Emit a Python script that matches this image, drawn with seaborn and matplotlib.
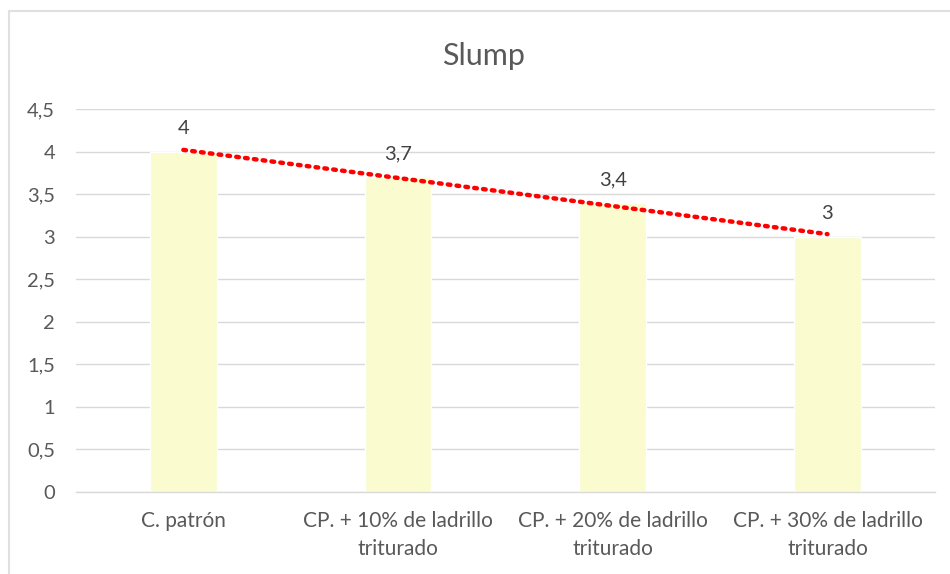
import numpy as np
import pandas as pd
import matplotlib
matplotlib.use("Agg")
import matplotlib.pyplot as plt
import seaborn as sns
from matplotlib.lines import Line2D

categories = ["C. patrón",
              "CP. + 10% de ladrillo\ntriturado",
              "CP. + 20% de ladrillo\ntriturado",
              "CP. + 30% de ladrillo\ntriturado"]
slump = [4.0, 3.7, 3.4, 3.0]
value_labels = ["4", "3,7", "3,4", "3"]
y_ticks = [0, 0.5, 1, 1.5, 2, 2.5, 3, 3.5, 4, 4.5]
y_tick_labels = ["0", "0,5", "1", "1,5", "2", "2,5", "3", "3,5", "4", "4,5"]
title = "Slump"

df = pd.DataFrame({"categoria": categories, "slump": slump})

sns.set_theme(style="white")
plt.rcParams["font.family"] = ["Lato", "DejaVu Sans"]

fig = plt.figure(figsize=(9.5, 5.74), dpi=100)
ax = fig.add_axes([0.08, 0.143, 0.904, 0.667])

sns.barplot(data=df, x="categoria", y="slump", color="#FAFCD0",
            width=0.31, saturation=1, ax=ax, zorder=2)

# linear trendline over the category positions
xs = np.arange(len(slump))
m, b = np.polyfit(xs, slump, 1)
ax.plot(xs, m * xs + b, color="#FF0000", linestyle=(0, (0.6, 1.4)),
        linewidth=3.2, dash_capstyle="round", zorder=3)

for x, v, lab in zip(xs, slump, value_labels):
    ax.text(x, v + 0.17, lab, ha="center", va="bottom",
            fontsize=14.5, color="#404040")

ax.set_ylim(0, 4.5)
ax.set_xlim(-0.5, len(slump) - 0.5)
ax.set_yticks(y_ticks)
ax.set_yticklabels(y_tick_labels, fontsize=14.5, color="#595959")
ax.tick_params(axis="x", labelsize=15, labelcolor="#595959", length=0, pad=14)
ax.tick_params(axis="y", length=0, pad=15)
for t in ax.get_xticklabels():
    t.set_linespacing(1.45)
ax.yaxis.grid(True, color="#D9D9D9", linewidth=1)
ax.set_axisbelow(True)
ax.set_xlabel("")
ax.set_ylabel("")
for s in ["top", "right", "left"]:
    ax.spines[s].set_visible(False)
ax.spines["bottom"].set_color("#D9D9D9")
ax.spines["bottom"].set_linewidth(1)

fig.text(0.509, 0.903, title, ha="center", va="center",
         fontsize=22, color="#595959")

# chart frame
fig.add_artist(Line2D([8.5 / 950, 8.5 / 950], [0, 1 - 11 / 574],
                      transform=fig.transFigure, color="#E0E0E0", linewidth=1.5))
fig.add_artist(Line2D([8.5 / 950, 1], [1 - 11 / 574, 1 - 11 / 574],
                      transform=fig.transFigure, color="#E0E0E0", linewidth=1.5))

fig.savefig("out.png", dpi=100, facecolor="white")
